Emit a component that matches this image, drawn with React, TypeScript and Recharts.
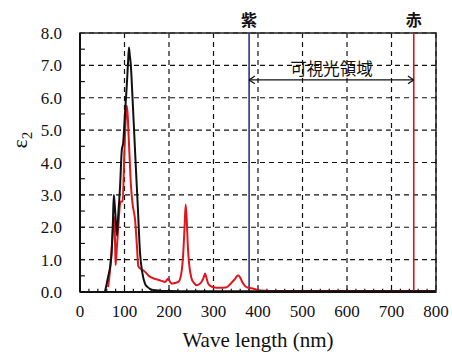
import React from 'react';
import {
    LineChart, Line, XAxis, YAxis, CartesianGrid, ReferenceLine, ReferenceArea, Label,
} from 'recharts';

// black curve (wavelength nm / epsilon2)
const blackWave = [56, 60, 64, 68, 71, 74, 76, 78, 80, 83, 86, 90, 94, 97, 101, 105, 108, 110, 112, 114, 118, 124, 130, 135, 140, 146, 152, 157, 165, 180, 200, 250, 300, 400, 500, 600, 700, 800];
const blackEps = [0, 0.26, 0.52, 0.8, 1.2, 2.2, 3.0, 2.7, 2.3, 1.75, 2.4, 3.25, 4.4, 4.6, 5.5, 6.35, 7.1, 7.55, 7.3, 7.05, 6.0, 4.28, 2.6, 1.19, 0.6, 0.26, 0.15, 0.1, 0.06, 0.04, 0.03, 0.02, 0.02, 0.02, 0.02, 0.02, 0.02, 0.02];

// red curve
const redWave = [63, 67, 71, 74, 77, 79, 80, 83, 86, 89, 91, 96, 99, 101, 103, 105, 107, 109, 112, 114, 118, 124, 128, 131, 136, 142, 148, 153, 160, 168, 175, 180, 186, 191, 198, 203, 206, 214, 221, 228, 232, 235, 237.5, 240, 242, 245, 250, 256, 262, 268, 273, 278, 281, 284, 288, 294, 300, 315, 330, 340, 348, 355, 360, 365, 374, 390, 405, 450, 500, 600, 700, 800];
const redEps = [0.15, 0.6, 1.29, 1.9, 2.32, 1.4, 0.83, 1.4, 2.01, 2.6, 2.79, 2.8, 4.0, 4.8, 5.4, 5.75, 5.5, 4.9, 4.0, 3.4, 2.74, 2.2, 1.4, 0.8, 0.72, 0.67, 0.6, 0.52, 0.45, 0.41, 0.38, 0.36, 0.33, 0.31, 0.41, 0.3, 0.26, 0.28, 0.31, 0.6, 1.2, 2.0, 2.7, 2.2, 1.5, 0.9, 0.45, 0.28, 0.21, 0.24, 0.31, 0.45, 0.57, 0.45, 0.26, 0.18, 0.15, 0.13, 0.15, 0.28, 0.4, 0.52, 0.45, 0.3, 0.15, 0.1, 0.05, 0.03, 0.03, 0.03, 0.03, 0.03];

const xTicks = [0, 100, 200, 300, 400, 500, 600, 700, 800];
const yTicks = [0, 1, 2, 3, 4, 5, 6, 7, 8];
const xMinorTicks = Array.from({ length: 39 }, (_, i) => (i + 1) * 20);
const yMinorTicks = Array.from({ length: 15 }, (_, i) => (i + 1) * 0.5);

const violetNm = 380;
const redNm = 750;
const arrowLevel = 6.55;

const blackData = blackWave.map((x, i) => ({ x, y: blackEps[i] }));
const redData = redWave.map((x, i) => ({ x, y: redEps[i] }));

const SERIF = '"Liberation Serif", "Times New Roman", serif';
const CJK = '"Noto Sans CJK JP", sans-serif';

const XTick = (props: any) => (
    <text x={props.x} y={props.y} dy="0.71em" textAnchor="middle" fill="#111" style={{ fontFamily: SERIF, fontSize: 17 }}>
        {props.payload.value}
    </text>
);

const YTick = (props: any) => (
    <text x={props.x} y={props.y} dy="0.355em" textAnchor="end" fill="#111" style={{ fontFamily: SERIF, fontSize: 17 }}>
        {Number(props.payload.value).toFixed(1)}
    </text>
);

const XTitle = (props: any) => {
    const vb = props.viewBox;
    return (
        <text x={vb.x + vb.width / 2} y={vb.y + 55} textAnchor="middle" fill="#111" style={{ fontFamily: SERIF, fontSize: 21 }}>
            Wave length (nm)
        </text>
    );
};

const YTitle = () => (
    <text x={27} y={140} textAnchor="middle" fill="#111" transform="rotate(-90 27 140)" style={{ fontFamily: SERIF, fontSize: 22 }}>
        ε<tspan style={{ fontSize: 15 }} dy={5}>2</tspan>
    </text>
);

export default function App() {
    return (
        <div style={{ position: 'absolute', left: 0, top: 0, background: '#fff' }}>
            <LineChart width={452} height={352} margin={{ top: 33, right: 16, left: 0, bottom: 0 }}>
                <CartesianGrid stroke="#111" strokeDasharray="5 4" strokeWidth={1.2} />
                <XAxis
                    type="number"
                    dataKey="x"
                    domain={[0, 800]}
                    ticks={xTicks}
                    allowDuplicatedCategory={false}
                    height={60}
                    tickLine={false}
                    tickSize={0}
                    tickMargin={13}
                    axisLine={{ stroke: '#111', strokeWidth: 2 }}
                    tick={XTick}
                >
                    <Label content={XTitle} />
                </XAxis>
                <YAxis
                    type="number"
                    domain={[0, 8]}
                    ticks={yTicks}
                    width={80}
                    tickLine={false}
                    tickSize={0}
                    tickMargin={18}
                    axisLine={{ stroke: '#111', strokeWidth: 2 }}
                    tick={YTick}
                >
                    <Label content={YTitle} />
                </YAxis>
                <ReferenceArea x1={0} x2={800} y1={0} y2={8} fill="none" stroke="#222" strokeWidth={1.5} />
                {xMinorTicks.map((t) => (
                    <ReferenceLine key={'xm' + t} segment={[{ x: t, y: 0 }, { x: t, y: 0.1 }]} stroke="#111" strokeWidth={1.2} />
                ))}
                {yMinorTicks.map((t) => (
                    <ReferenceLine key={'ym' + t} segment={[{ x: 0, y: t }, { x: 11, y: t }]} stroke="#111" strokeWidth={1.2} />
                ))}
                <ReferenceLine
                    x={violetNm}
                    stroke="#2a3585"
                    strokeWidth={1.6}
                    label={{ value: '紫', position: 'top', offset: 7, fill: '#111', fontSize: 16, fontWeight: 'bold', style: { fontFamily: CJK } }}
                />
                <ReferenceLine
                    x={redNm}
                    stroke="#d8141a"
                    strokeWidth={1.6}
                    label={{ value: '赤', position: 'top', offset: 7, fill: '#111', fontSize: 16, fontWeight: 'bold', style: { fontFamily: CJK } }}
                />
                <ReferenceLine
                    segment={[{ x: violetNm, y: arrowLevel }, { x: redNm, y: arrowLevel }]}
                    stroke="#111"
                    strokeWidth={1.3}
                    label={{ value: '可視光領域', position: 'top', offset: 5, fill: '#111', fontSize: 16.5, style: { fontFamily: CJK } }}
                />
                <ReferenceLine segment={[{ x: violetNm, y: arrowLevel }, { x: violetNm + 13, y: arrowLevel + 0.12 }]} stroke="#111" strokeWidth={1.3} />
                <ReferenceLine segment={[{ x: violetNm, y: arrowLevel }, { x: violetNm + 13, y: arrowLevel - 0.12 }]} stroke="#111" strokeWidth={1.3} />
                <ReferenceLine segment={[{ x: redNm, y: arrowLevel }, { x: redNm - 13, y: arrowLevel + 0.12 }]} stroke="#111" strokeWidth={1.3} />
                <ReferenceLine segment={[{ x: redNm, y: arrowLevel }, { x: redNm - 13, y: arrowLevel - 0.12 }]} stroke="#111" strokeWidth={1.3} />
                <Line data={redData} dataKey="y" type="monotone" stroke="#e0161b" strokeWidth={2} dot={false} isAnimationActive={false} />
                <Line data={blackData} dataKey="y" type="monotone" stroke="#111" strokeWidth={2} dot={false} isAnimationActive={false} />
            </LineChart>
        </div>
    );
}
